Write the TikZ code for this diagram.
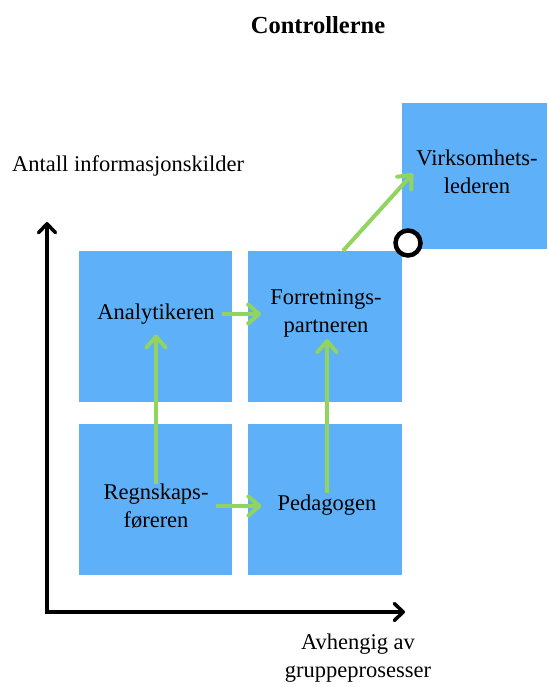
\documentclass[tikz,border=0pt]{standalone}
\usepackage{fontspec}
\setmainfont{Liberation Serif}
\usetikzlibrary{arrows.meta,calc}
\definecolor{boxblue}{RGB}{94,176,248}
\definecolor{arrgreen}{RGB}{145,212,95}
\begin{document}
\begin{tikzpicture}[x=1pt,y=-1pt,
  box/.style={draw=none,fill=boxblue,inner sep=0pt,rectangle},
  lbl/.style={font=\fontsize{22.5}{28}\selectfont,align=center,inner sep=2pt},
  garrow/.style={draw=arrgreen,line width=4pt,-{Straight Barb[round,length=11pt,width=19pt]}},
  axis/.style={draw=black,line width=3.5pt,{Straight Barb[round,length=9pt,width=17pt]}-{Straight Barb[round,length=9pt,width=17pt]}}]
\useasboundingbox (0,0) rectangle (547,687);
% boxes
\node[box,minimum width=153pt,minimum height=151pt] (anaB) at (155.5,326.5) {};
\node[box,minimum width=154pt,minimum height=151pt] (forB) at (325,326.5) {};
\node[box,minimum width=153pt,minimum height=151pt] (regB) at (155.5,499.5) {};
\node[box,minimum width=154pt,minimum height=151pt] (pedB) at (325,499.5) {};
\node[box,minimum width=145pt,minimum height=146pt] (virB) at (474.5,176) {};
% circle
\node[circle,draw=black,line width=4.5pt,fill=white,minimum size=25pt,inner sep=0pt] (knob) at (408,243) {};
% texts
\node[lbl,font=\bfseries\fontsize{24.5}{30}\selectfont] (title) at (318,25) {Controllerne};
\node[lbl,anchor=west] (ylab) at (10,166) {Antall informasjonskilder};
\node[lbl] (virT) at (477,172) {Virksomhets-\\lederen};
\node[lbl] (forT) at (326,313) {Forretnings-\\partneren};
\node[lbl] (anaT) at (156,314) {Analytikeren};
\node[lbl] (regT) at (156,506) {Regnskaps-\\føreren};
\node[lbl] (pedT) at (327,505) {Pedagogen};
\node[lbl] (xlab) at (358,658) {Avhengig av\\gruppeprosesser};
% axes
\coordinate (axY) at (47,222);
\coordinate (axX) at (405,612);
\draw[axis] (axY) |- (axX);
% green arrows
\draw[garrow,shorten >=8pt,shorten <=-2pt] (regT.north) -- (anaT.south);
\draw[garrow,shorten <=5pt,shorten >=14pt] (regT.east) -- (regT.east -| pedT.west);
\draw[garrow,shorten <=5pt,shorten >=7pt] (anaT.east) -- (anaT.east -| forT.west);
\draw[garrow] (pedT.north) -- (pedT.north |- forT.south);
\draw[garrow,shorten >=2pt] ([xshift=18pt]forB.north) -- (virT.west);
\end{tikzpicture}
\end{document}
